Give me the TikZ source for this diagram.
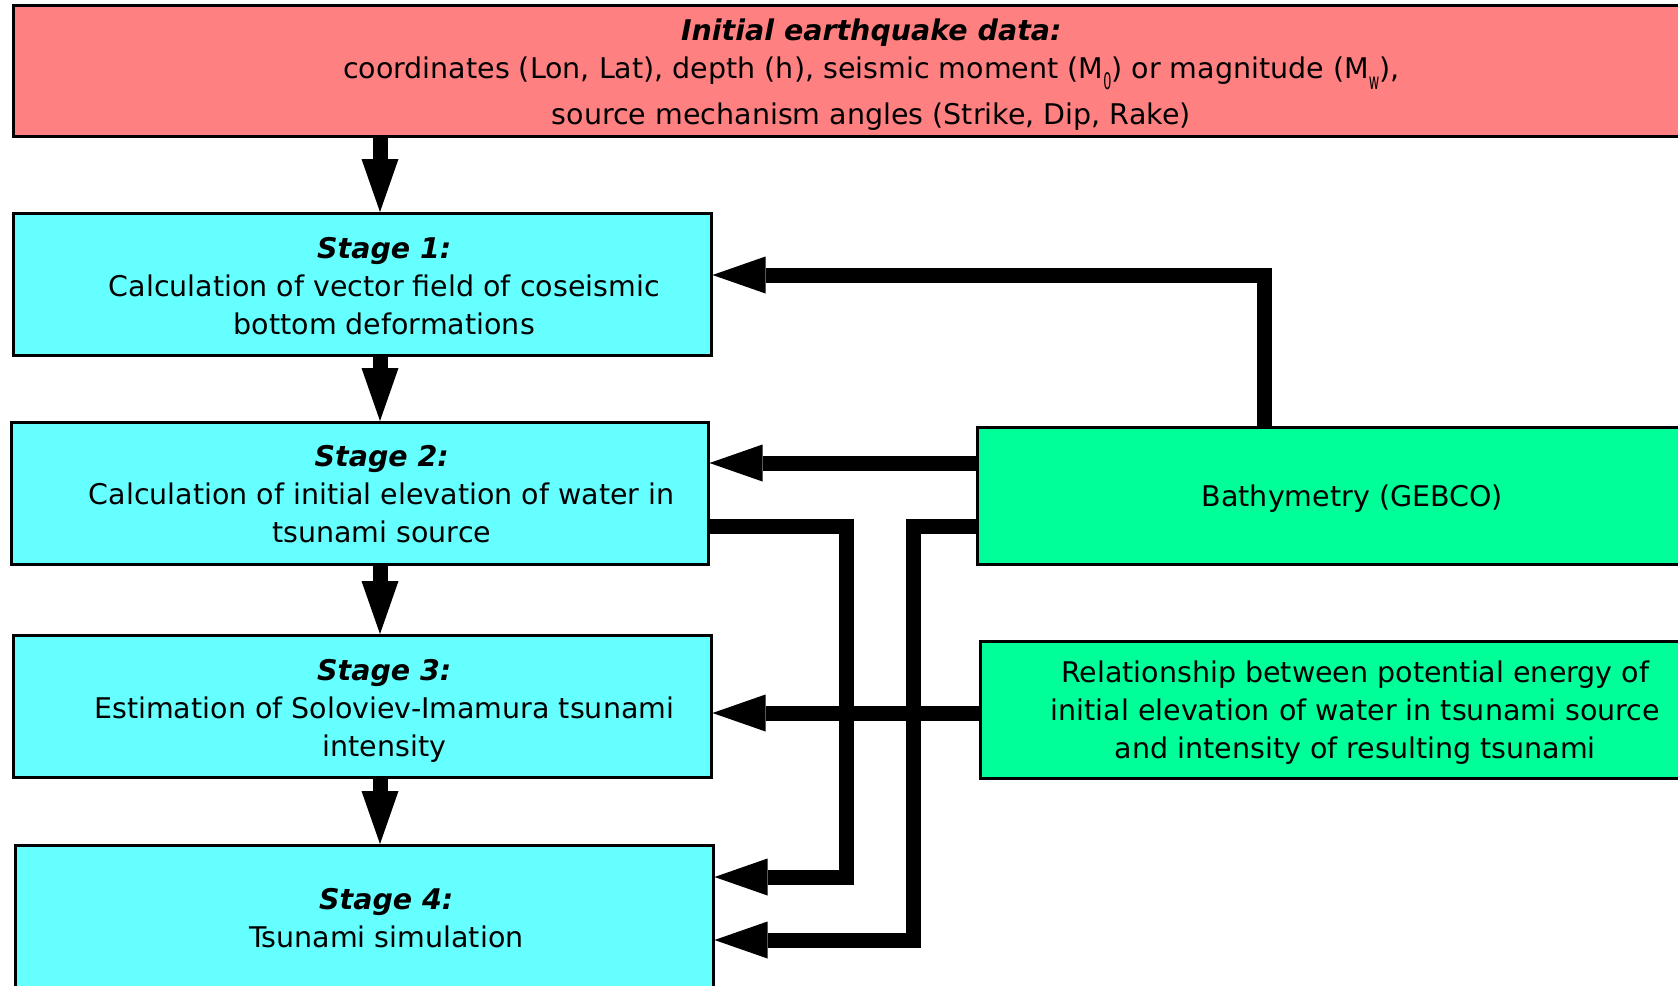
\documentclass[tikz,border=0pt]{standalone}
\usepackage{fontspec}
\usepackage{graphicx}
\setmainfont{DejaVu Sans}
\usetikzlibrary{arrows.meta}

\definecolor{quakered}{RGB}{255,128,128}
\definecolor{stagecyan}{RGB}{102,255,255}
\definecolor{datagreen}{RGB}{0,255,153}

\newcommand{\lowsub}[1]{\raisebox{-11pt}{\scalebox{0.45}[0.8]{#1}}}

\tikzset{
  box/.style={draw=black, line width=2.5pt, anchor=north west, inner sep=0pt},
  boxtext/.style={align=center, font=\fontsize{28.5}{38}\selectfont},
  flow/.style={line width=15pt, line join=miter, -{Triangle[length=53pt,width=37pt,line width=0pt]}},
}

\begin{document}
\begin{tikzpicture}[x=1pt, y=-1pt]

    \useasboundingbox (0,0) rectangle (1678,985);
    \clip (0,0) rectangle (1678,985);

    % Earthquake data
    \node[box, fill=quakered, minimum width=1672pt, minimum height=131pt] (quake) at (12,4) {};
    \node[boxtext] (quaketext) at ([xshift=22pt,yshift=-4pt]quake.center)
        {{\bfseries\itshape Initial earthquake data:}\\
         coordinates (Lon, Lat), depth (h), seismic moment (M\lowsub{0}) or magnitude (M\lowsub{w}),\\[8pt]
         source mechanism angles (Strike, Dip, Rake)};

    % Stages
    \node[box, fill=stagecyan, minimum width=698pt, minimum height=142pt] (s1) at (12,212) {};
    \node[boxtext] (s1text) at ([xshift=22pt,yshift=-2pt]s1.center)
        {{\bfseries\itshape Stage 1:}\\ Calculation of vector field of coseismic\\ bottom deformations};

    \node[box, fill=stagecyan, minimum width=697pt, minimum height=142pt] (s2) at (10,421) {};
    \node[boxtext] (s2text) at ([xshift=22pt,yshift=-1pt]s2.center)
        {{\bfseries\itshape Stage 2:}\\ Calculation of initial elevation of water in\\ tsunami source};

    \node[box, fill=stagecyan, minimum width=698pt, minimum height=142pt] (s3) at (12,634) {};
    \node[boxtext] (s3text) at ([xshift=22pt,yshift=-5pt]s3.center)
        {{\bfseries\itshape Stage 3:}\\ Estimation of Soloviev-Imamura tsunami\\ intensity};

    \node[box, fill=stagecyan, minimum width=698pt, minimum height=142pt] (s4) at (14,844) {};
    \node[boxtext] (s4text) at ([xshift=22pt,yshift=-2pt]s4.center)
        {{\bfseries\itshape Stage 4:}\\ Tsunami simulation};

    % Input data
    \node[box, fill=datagreen, minimum width=706pt, minimum height=137pt] (bath) at (976,426) {};
    \node[boxtext] (bathtext) at ([xshift=22pt,yshift=-3pt]bath.center) {Bathymetry (GEBCO)};

    \node[box, fill=datagreen, minimum width=706pt, minimum height=137pt] (rel) at (979,640) {};
    \node[boxtext] (reltext) at ([xshift=22pt,yshift=-3pt]rel.center)
        {Relationship between potential energy of\\ initial elevation of water in tsunami source\\ and intensity of resulting tsunami};

    % Main flow
    \coordinate (spine) at (380,0);
    \draw[flow] (quake.south -| spine) -- (s1.north -| spine);
    \draw[flow] (s1.south -| spine) -- (s2.north -| spine);
    \draw[flow] (s2.south -| spine) -- (s3.north -| spine);
    \draw[flow] (s3.south -| spine) -- (s4.north -| spine);

    % Bathymetry links
    \coordinate (riser) at (1264,275);
    \coordinate (bathlevel) at (0,463);
    \coordinate (relay) at (0,526);
    \coordinate (stagedrop) at (846,877);
    \coordinate (bathdrop) at (913,940);
    \draw[flow] (bath.north -| riser) |- (s1.east |- riser);
    \draw[flow] (bath.west |- bathlevel) -- (s2.east |- bathlevel);
    \draw[flow] (s2.east |- relay) -| (stagedrop) -- (s4.east |- stagedrop);
    \draw[flow] (bath.west |- relay) -| (bathdrop) -- (s4.east |- bathdrop);

    % Energy-intensity link
    \coordinate (rellevel) at (0,713);
    \draw[flow] (rel.west |- rellevel) -- (s3.east |- rellevel);

\end{tikzpicture}
\end{document}
